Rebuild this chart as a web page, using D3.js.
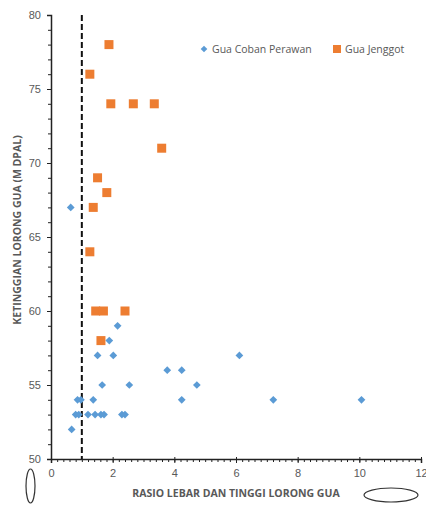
<!DOCTYPE html>
<html>
<head>
<meta charset="utf-8">
<script src="https://cdn.jsdelivr.net/npm/d3@7"></script>
<style>
  body { margin: 0; background: #fff; }
  svg { display: block; font-family: "Open Sans", "Liberation Sans", sans-serif; }
</style>
</head>
<body>
<div id="chart"></div>
<script>
// Gua Coban Perawan (ratio, elevation)
const cobanX = [0.64, 2.16, 1.89, 1.51, 2.02, 3.77, 4.24, 1.66, 2.54, 4.73, 0.86, 0.97, 1.37, 4.24,
                0.80, 0.90, 1.20, 1.43, 1.62, 1.72, 2.30, 2.40, 0.67, 6.11, 7.21, 10.07]
const cobanY = [67, 59, 58, 57, 57, 56, 56, 55, 55, 55, 54, 54, 54, 54,
                53, 53, 53, 53, 53, 53, 53, 53, 52, 57, 54, 54]
// Gua Jenggot
const jenggotX = [1.88, 1.26, 1.94, 2.67, 3.35, 3.59, 1.51, 1.81, 1.37, 1.26, 1.45, 1.70, 2.40, 1.62]
const jenggotY = [78, 76, 74, 74, 74, 71, 69, 68, 67, 64, 60, 60, 60, 58]

const seriesNames = ["Gua Coban Perawan", "Gua Jenggot"]
const xTicks = [0, 2, 4, 6, 8, 10, 12]
const yTicks = [50, 55, 60, 65, 70, 75, 80]
const refRatio = 1

const width = 426
const height = 505
const marginTop = 15
const marginRight = 5
const marginBottom = 46
const marginLeft = 51

const blue = "#5b9bd5"
const orange = "#ed7d31"
const axisGray = "#595959"

const svg = d3.select("#chart")
    .append("svg")
    .attr("width", width)
    .attr("height", height)
    .attr("viewBox", [0, 0, width, height])

const xScale = d3.scaleLinear([0, 12], [marginLeft, width - marginRight])
const yScale = d3.scaleLinear([50, 80], [height - marginBottom, marginTop])

// x axis
svg.append("g")
    .attr("transform", `translate(0,${yScale(50)})`)
    .call(d3.axisBottom(xScale).tickValues(d3.range(0, 12.01, 0.2)).tickSize(3).tickFormat(""))
    .call(g => g.select(".domain").remove())
    .call(g => g.selectAll("line").attr("stroke", "#222"))
svg.append("g")
    .attr("transform", `translate(0,${yScale(50)})`)
    .call(d3.axisBottom(xScale).tickValues(xTicks).tickSize(4).tickPadding(6))
    .call(g => g.select(".domain").attr("stroke", "#222").attr("stroke-width", 1.5))
    .call(g => g.selectAll("line").attr("stroke", "#222").attr("y1", -2))
    .call(g => g.selectAll("text").attr("fill", axisGray).attr("font-size", 11))

// y axis
svg.append("g")
    .attr("transform", `translate(${xScale(0)},0)`)
    .call(d3.axisLeft(yScale).tickValues(d3.range(50, 80.1, 1)).tickSize(3).tickFormat(""))
    .call(g => g.select(".domain").remove())
    .call(g => g.selectAll("line").attr("stroke", "#222"))
svg.append("g")
    .attr("transform", `translate(${xScale(0)},0)`)
    .call(d3.axisLeft(yScale).tickValues(yTicks).tickSize(4).tickPadding(6))
    .call(g => g.select(".domain").attr("stroke", "#222").attr("stroke-width", 1.5))
    .call(g => g.selectAll("line").attr("stroke", "#222"))
    .call(g => g.selectAll("text").attr("fill", axisGray).attr("font-size", 11))

// reference line at ratio 1
svg.append("line")
    .attr("x1", xScale(refRatio)).attr("x2", xScale(refRatio))
    .attr("y1", yScale(80)).attr("y2", yScale(50))
    .attr("stroke", "#111")
    .attr("stroke-width", 2)
    .attr("stroke-dasharray", "6,3")

// points
svg.append("g")
    .selectAll("path")
    .data(d3.range(cobanX.length))
    .join("path")
    .attr("transform", i => `translate(${xScale(cobanX[i])},${yScale(cobanY[i])}) rotate(45)`)
    .attr("d", d3.symbol().type(d3.symbolSquare).size(30)())
    .attr("fill", blue)

svg.append("g")
    .selectAll("rect")
    .data(d3.range(jenggotX.length))
    .join("rect")
    .attr("x", i => xScale(jenggotX[i]) - 4.5)
    .attr("y", i => yScale(jenggotY[i]) - 4.5)
    .attr("width", 9)
    .attr("height", 9)
    .attr("fill", orange)

// legend
const legend = svg.append("g").attr("font-size", 10.5).attr("fill", axisGray)
legend.append("path")
    .attr("transform", "translate(204,49) rotate(45)")
    .attr("d", d3.symbol().type(d3.symbolSquare).size(22)())
    .attr("fill", blue)
legend.append("text").attr("x", 212).attr("y", 53).text(seriesNames[0])
legend.append("rect").attr("x", 333).attr("y", 45).attr("width", 8).attr("height", 8).attr("fill", orange)
legend.append("text").attr("x", 345).attr("y", 53).text(seriesNames[1])

// axis titles
svg.append("text")
    .attr("x", 236).attr("y", 497)
    .attr("text-anchor", "middle")
    .attr("font-size", 10.5).attr("font-weight", "bold")
    .attr("fill", axisGray)
    .text("RASIO LEBAR DAN TINGGI LORONG GUA")
svg.append("text")
    .attr("transform", "translate(21,230) rotate(-90)")
    .attr("text-anchor", "middle")
    .attr("font-size", 10.5).attr("font-weight", "bold")
    .attr("fill", axisGray)
    .text("KETINGGIAN LORONG GUA (M DPAL)")

// hand-drawn ellipses
svg.append("ellipse").attr("cx", 30.5).attr("cy", 486).attr("rx", 4.5).attr("ry", 17)
    .attr("fill", "none").attr("stroke", "#333").attr("stroke-width", 1.2)
svg.append("ellipse").attr("cx", 391).attr("cy", 495).attr("rx", 27).attr("ry", 7)
    .attr("fill", "none").attr("stroke", "#333").attr("stroke-width", 1.2)
</script>
</body>
</html>
